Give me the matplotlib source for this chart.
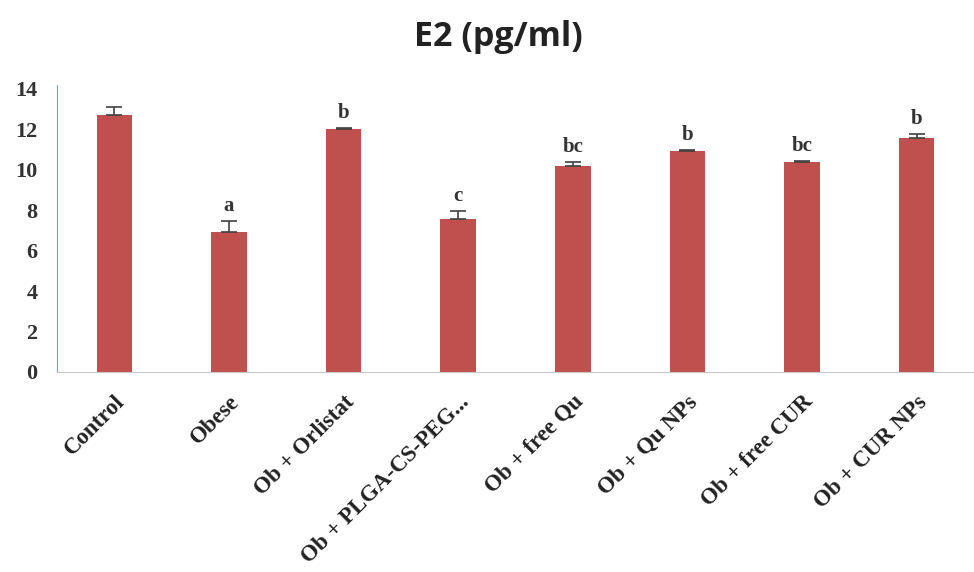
import matplotlib.pyplot as plt
import numpy as np

groups = ['Control', 'Obese', 'Ob + Orlistat', 'Ob + PLGA-CS-PEG...', 'Ob + free Qu',
          'Ob + Qu NPs', 'Ob + free CUR', 'Ob + CUR NPs']
e2 = [12.7, 6.9, 12.0, 7.55, 10.2, 10.95, 10.4, 11.55]
sem = [0.4, 0.55, 0.05, 0.4, 0.2, 0.05, 0.05, 0.2]
letters = ['', 'a', 'b', 'c', 'bc', 'b', 'bc', 'b']

fig = plt.figure(figsize=(9.74, 5.72), dpi=100)
ax = fig.add_axes([0.0585, 0.3497, 0.9415, 0.4948])

x = np.arange(len(groups))
# only the upper half of the error bar is shown
ax.bar(x, e2, width=0.31, color='#C0504D', yerr=[np.zeros(len(sem)), sem],
       error_kw=dict(ecolor='#404040', elinewidth=1.2, capsize=6, capthick=1.2))

# significance letters above the error bars
for xi, v, s, lab in zip(x, e2, sem, letters):
    if lab:
        ax.text(xi, v + s + 0.25, lab, ha='center', va='bottom',
                family='Liberation Serif', fontweight='bold', fontsize=15, color='#333333')

ax.set_xlim(-0.5, 7.5)
ax.set_ylim(0, 14)
ax.set_yticks(range(0, 15, 2))
ax.set_xticks(x)
ax.set_xticklabels(groups, rotation=45, ha='right', va='top', rotation_mode='anchor',
                   family='Liberation Serif', fontweight='bold',
                   fontsize=16.5, color='#222222')
for t in ax.get_yticklabels():
    t.set_family('Liberation Serif')
    t.set_fontweight('bold')
    t.set_fontsize(16)
    t.set_color('#333333')
ax.tick_params(axis='y', length=0, pad=14)
ax.tick_params(axis='x', length=0, pad=14)

for side in ['top', 'right']:
    ax.spines[side].set_visible(False)
ax.spines['left'].set_color('#7F9DB9')
ax.spines['bottom'].set_color('#C8C8C8')
ax.spines['left'].set_bounds(0, 14.2)

fig.text(0.512, 0.935, 'E2 (pg/ml)', ha='center', va='center',
         family='Open Sans', fontweight='bold', fontsize=24.5, color='#222222')

plt.savefig('out.png', dpi=100)
